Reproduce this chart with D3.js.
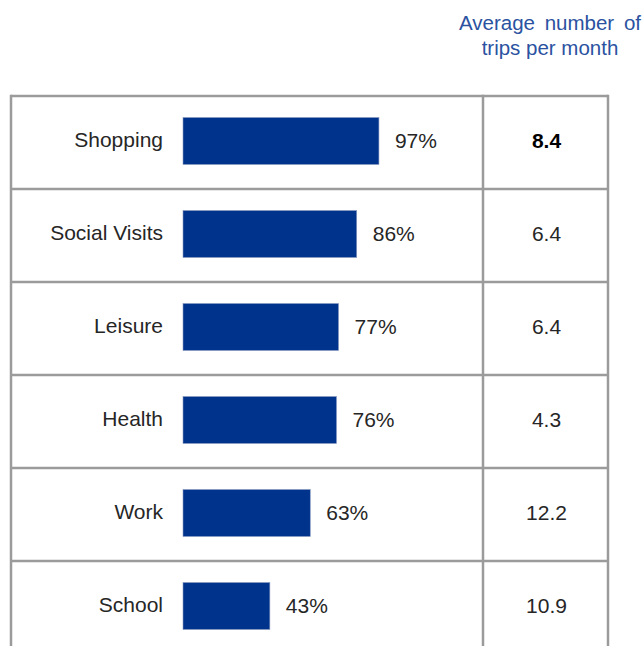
<!DOCTYPE html>
<html>
<head>
<meta charset="utf-8">
<script src="https://cdn.jsdelivr.net/npm/d3@7"></script>
<style>
  html, body { margin: 0; padding: 0; background: #fff; }
  svg { display: block; }
  text { font-family: "Liberation Sans", Arial, sans-serif; }
</style>
</head>
<body>
<script>
// Trip purposes, share of respondents making them, and average monthly trips
const purposes = ["Shopping", "Social Visits", "Leisure", "Health", "Work", "School"];
const sharePct = [97, 86, 77, 76, 63, 43];
const tripsPerMonth = [8.4, 6.4, 6.4, 4.3, 12.2, 10.9];
const headerLines = ["Average number of", "trips per month"];

const W = 643, H = 646;
const svg = d3.select("body").append("svg").attr("width", W).attr("height", H);

// Table frame geometry
const tableLeft = 11, divider = 483, tableRight = 608;
const tableTop = 96, rowH = 93;

const y = d3.scaleBand()
  .domain(purposes)
  .range([tableTop, tableTop + rowH * purposes.length])
  .paddingInner(0).paddingOuter(0);

const barX0 = 183;
const x = d3.scaleLinear().domain([0, 100]).range([0, 202]);

const gridColor = "#9b9b9b";
const barColor = "#00338c";
const textColor = "#262626";
const fontPx = "21px";

// Header above the value column
const header = svg.append("text")
  .attr("text-anchor", "middle")
  .attr("fill", "#2b52a1")
  .style("font-size", "20.5px");
header.selectAll("tspan")
  .data(headerLines)
  .join("tspan")
  .attr("x", 550)
  .attr("y", (d, i) => 30 + i * 25)
  .attr("word-spacing", (d, i) => i === 0 ? "4px" : "0px")
  .text(d => d);

// Rows
const rows = svg.append("g").selectAll("g")
  .data(purposes.map((p, i) => ({ p, share: sharePct[i], trips: tripsPerMonth[i], i })))
  .join("g");

const barH = 47, barOff = 21.5;
const midY = d => y(d.p) + barOff + barH / 2;

rows.append("text")
  .attr("x", 163)
  .attr("y", d => midY(d) - 1)
  .attr("dy", "0.35em")
  .attr("text-anchor", "end")
  .attr("fill", textColor)
  .style("font-size", fontPx)
  .text(d => d.p);

rows.append("rect")
  .attr("x", barX0)
  .attr("y", d => y(d.p) + barOff)
  .attr("width", d => x(d.share))
  .attr("height", barH)
  .attr("fill", barColor)
  .attr("stroke", "#8a9cc0")
  .attr("stroke-width", 0.6);

rows.append("text")
  .attr("x", d => barX0 + x(d.share) + 16)
  .attr("y", d => midY(d))
  .attr("dy", "0.35em")
  .attr("fill", textColor)
  .style("font-size", fontPx)
  .text(d => d.share + "%");

rows.append("text")
  .attr("x", (divider + tableRight) / 2 + 1)
  .attr("y", d => midY(d))
  .attr("dy", "0.35em")
  .attr("text-anchor", "middle")
  .attr("fill", d => d.i === 0 ? "#000" : textColor)
  .style("font-size", fontPx)
  .style("font-weight", d => d.i === 0 ? "bold" : "normal")
  .text(d => d.trips.toFixed(1));

// Grid lines of the table
const grid = svg.append("g")
  .attr("stroke", gridColor)
  .attr("stroke-width", 2.5)
  .attr("fill", "none");

const bottom = tableTop + rowH * purposes.length;
const hLines = purposes.map(p => y(p)).concat([bottom]);
grid.selectAll("line.h")
  .data(hLines)
  .join("line")
  .attr("class", "h")
  .attr("x1", tableLeft).attr("x2", tableRight)
  .attr("y1", d => d).attr("y2", d => d);

grid.selectAll("line.v")
  .data([tableLeft, divider, tableRight])
  .join("line")
  .attr("class", "v")
  .attr("x1", d => d).attr("x2", d => d)
  .attr("y1", tableTop - 1.25).attr("y2", bottom + 1.25);
</script>
</body>
</html>
